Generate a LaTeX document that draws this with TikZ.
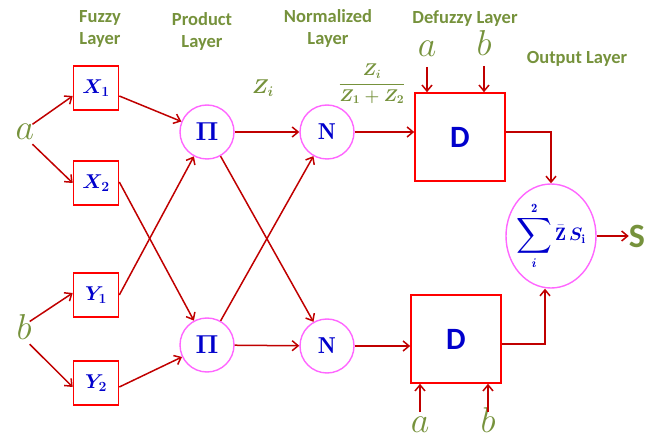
\RequirePackage{fix-cm}
\documentclass[tikz,border=0pt]{standalone}
\usepackage{amsmath,bm}
\usepackage{fontspec}
\newfontfamily\calfont{Carlito}
\usetikzlibrary{arrows.meta,shapes.geometric}
\definecolor{arrred}{HTML}{C00000}
\definecolor{boxred}{HTML}{FF0000}
\definecolor{circpink}{HTML}{FF66FF}
\definecolor{txtblue}{HTML}{0000CC}
\definecolor{olive}{HTML}{76923C}
\tikzset{
  arr/.style={draw=arrred, line width=1.5pt, -{Straight Barb[length=6pt,width=10pt]}},
  fbox/.style={draw=boxred, line width=1.6pt, minimum width=45pt, minimum height=44pt, inner sep=0pt, text=txtblue, font=\fontsize{20}{22}\selectfont},
  circ/.style={circle, draw=circpink, line width=1.4pt, minimum size=54pt, inner sep=0pt, text=txtblue},
  dbox/.style={draw=boxred, line width=1.6pt, minimum width=90pt, minimum height=88pt, inner sep=0pt, text=txtblue, font=\calfont\bfseries\fontsize{31}{33}\selectfont},
  title/.style={text=olive, align=center, inner sep=0pt, font=\calfont\bfseries\fontsize{18.5}{22}\selectfont},
  inp/.style={text=olive, inner sep=0pt, font=\fontsize{36}{40}\selectfont},
  mlab/.style={text=olive, inner sep=0pt, font=\fontsize{20}{22}\selectfont},
}
\begin{document}
\begin{tikzpicture}[x=1pt,y=-1pt]
\useasboundingbox (0,0) rectangle (656,438);
% titles
\node[title] (t1) at (100,29) {Fuzzy\\Layer};
\node[title] (t2) at (202,31) {Product\\Layer};
\node[title] (t3) at (328,28) {Normalized\\Layer};
\node[title] (t4) at (465,19) {Defuzzy Layer};
\node[title] (t5) at (577,59) {Output Layer};
% inputs
\node[inp, anchor=base] (a) at (25,140) {$a$};
\node[inp, anchor=base] (b) at (24,340) {$b$};
% fuzzy
\node[fbox] (X1) at (96,88) {$\bm{X_1}$};
\node[fbox] (X2) at (96,183) {$\bm{X_2}$};
\node[fbox] (Y1) at (96,295) {$\bm{Y_1}$};
\node[fbox] (Y2) at (96,383) {$\bm{Y_2}$};
% product
\node[circ, font=\fontsize{26}{28}\selectfont] (P1) at (207,132) {$\bm{\Pi}$};
\node[circ, font=\fontsize{26}{28}\selectfont] (P2) at (207,345) {$\bm{\Pi}$};
% normalized
\node[circ, font=\fontsize{23}{25}\selectfont] (N1) at (327,132) {$\mathbf{N}$};
\node[circ, font=\fontsize{23}{25}\selectfont] (N2) at (327,346) {$\mathbf{N}$};
% labels
\node[mlab] (zi) at (263,88) {$\bm{Z_i}$};
\node[mlab, font=\fontsize{17}{19}\selectfont] (fr) at (372,84) {$\bm{\dfrac{Z_i}{Z_1+Z_2}}$};
% defuzzy
\node[dbox] (D1) at (460,137) {D};
\node[dbox] (D2) at (456,339) {D};
\node[inp, anchor=base] (da) at (427,57) {$a$};
\node[inp, anchor=base] (db) at (484,56) {$b$};
\node[inp, anchor=base] (ea) at (420,432) {$a$};
\node[inp, anchor=base] (eb) at (488,432) {$b$};
% output
\node[ellipse, draw=circpink, line width=1.4pt, minimum width=90pt, minimum height=104pt, inner sep=-14pt, text=txtblue, font=\fontsize{18}{20}\selectfont] (Sum) at (551,236) {$\mathop{\vcenter{\hbox{\fontsize{25}{27}\selectfont$\displaystyle\sum$}}}\limits_{\bm{i}}^{\mathbf{2}}\bar{\mathbf{Z}}\,\bm{S}_{\mathbf{i}}$};
\node[text=olive, inner sep=0pt, font=\calfont\bfseries\fontsize{34}{36}\selectfont] (S) at (637,236) {S};
% connectors
\draw[arr] ([xshift=-2pt]a.north east) -- ([yshift=-8pt]X1.west);
\draw[arr] ([xshift=-2pt,yshift=-4pt]a.south east) -- (X2.west);
\draw[arr] ([xshift=-2pt,yshift=6pt]b.east) -- ([yshift=2pt]Y1.west);
\draw[arr] ([xshift=-2pt,yshift=-4pt]b.south east) -- ([yshift=-4pt]Y2.west);
\draw[arr] ([yshift=-8pt]X1.east) -- (P1);
\draw[arr] ([yshift=1pt]X2.east) -- (P2);
\draw[arr] (Y1.east) -- (P1);
\draw[arr] ([yshift=-4pt]Y2.east) -- (P2);
\draw[arr] (P1) -- (N1);
\draw[arr] (P1) -- (N2);
\draw[arr] (P2) -- (N1);
\draw[arr] (P2) -- (N2);
\draw[arr] (N1.east) -- (N1.east -| D1.west);
\draw[arr] (N2.east) -- (N2.east -| D2.west);
\draw[arr] ([yshift=-10pt]da.base) -- (da.base |- D1.north);
\draw[arr] ([yshift=-10pt]db.base) -- (db.base |- D1.north);
\draw[arr] ([yshift=20pt]ea.base) -- (ea.base |- D2.south);
\draw[arr] ([yshift=20pt]eb.base) -- (eb.base |- D2.south);
\draw[arr] ([yshift=5pt]D1.east) -| (Sum.north);
\draw[arr] ([yshift=-5pt]D2.east) -| ([xshift=-6pt]Sum.south);
\draw[arr] (Sum.east) -- (S.west);
\end{tikzpicture}
\end{document}
